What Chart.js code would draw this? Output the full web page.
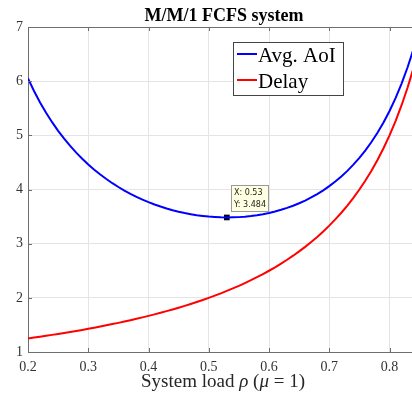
<!DOCTYPE html>
<html>
<head>
<meta charset="utf-8">
<script src="https://cdn.jsdelivr.net/npm/chart.js@4"></script>
<style>
  html, body { margin: 0; padding: 0; background: #fff; }
  #wrap { width: 412px; height: 393px; }
</style>
</head>
<body>
<div id="wrap"><canvas id="chart" width="412" height="393"></canvas></div>
<script>
// system load rho (mu = 1)
const rho = [0.20, 0.21, 0.22, 0.23, 0.24, 0.25, 0.26, 0.27, 0.28, 0.29,
             0.30, 0.31, 0.32, 0.33, 0.34, 0.35, 0.36, 0.37, 0.38, 0.39,
             0.40, 0.41, 0.42, 0.43, 0.44, 0.45, 0.46, 0.47, 0.48, 0.49,
             0.50, 0.51, 0.52, 0.53, 0.54, 0.55, 0.56, 0.57, 0.58, 0.59,
             0.60, 0.61, 0.62, 0.63, 0.64, 0.65, 0.66, 0.67, 0.68, 0.69,
             0.70, 0.71, 0.72, 0.73, 0.74, 0.75, 0.76, 0.77, 0.78, 0.79,
             0.80, 0.81, 0.82, 0.83, 0.84];

const avgAoI = [6.050, 5.818, 5.608, 5.417, 5.243, 5.083, 4.938, 4.804, 4.680, 4.567,
                4.462, 4.365, 4.276, 4.193, 4.116, 4.046, 3.980, 3.920, 3.865, 3.813,
                3.767, 3.724, 3.685, 3.650, 3.618, 3.590, 3.566, 3.545, 3.526, 3.512,
                3.500, 3.492, 3.486, 3.484, 3.486, 3.490, 3.498, 3.510, 3.525, 3.544,
                3.567, 3.593, 3.625, 3.660, 3.700, 3.746, 3.796, 3.853, 3.916, 3.985,
                4.062, 4.147, 4.240, 4.344, 4.458, 4.583, 4.723, 4.877, 5.048, 5.238,
                5.450, 5.688, 5.955, 6.257, 6.601];

const delay = [1.250, 1.266, 1.282, 1.299, 1.316, 1.333, 1.351, 1.370, 1.389, 1.408,
               1.429, 1.449, 1.471, 1.493, 1.515, 1.538, 1.563, 1.587, 1.613, 1.639,
               1.667, 1.695, 1.724, 1.754, 1.786, 1.818, 1.852, 1.887, 1.923, 1.961,
               2.000, 2.041, 2.083, 2.128, 2.174, 2.222, 2.273, 2.326, 2.381, 2.439,
               2.500, 2.564, 2.632, 2.703, 2.778, 2.857, 2.941, 3.030, 3.125, 3.226,
               3.333, 3.448, 3.571, 3.704, 3.846, 4.000, 4.167, 4.348, 4.545, 4.762,
               5.000, 5.263, 5.556, 5.882, 6.250];

const seriesNames = ['Avg. AoI', 'Delay'];
const seriesColors = ['#0000ff', '#ff0000'];

// data tip on the AoI minimum
const tipX = [0.53];
const tipY = [3.484];

const SERIF = '"Liberation Serif", "Times New Roman", serif';
const AXIS_COLOR = '#6e6e6e';

function pts(ys) {
    return rho.map((x, i) => ({ x: x, y: ys[i] }));
}

// frame, inward ticks, title, x label, legend box, data tip
const decorPlugin = {
    id: 'decor',
    afterDatasetsDraw(chart) {
        const ctx = chart.ctx;
        const a = chart.chartArea;
        const xs = chart.scales.x;
        const ys = chart.scales.y;

        ctx.save();
        ctx.strokeStyle = AXIS_COLOR;
        ctx.lineWidth = 1;
        // top line
        ctx.beginPath();
        ctx.moveTo(a.left, a.top + 0.5);
        ctx.lineTo(a.right, a.top + 0.5);
        ctx.stroke();
        // inward ticks
        ctx.beginPath();
        xs.ticks.forEach(t => {
            const px = Math.round(xs.getPixelForValue(t.value)) + 0.5;
            ctx.moveTo(px, a.bottom); ctx.lineTo(px, a.bottom - 4);
            ctx.moveTo(px, a.top); ctx.lineTo(px, a.top + 4);
        });
        ys.ticks.forEach(t => {
            const py = Math.round(ys.getPixelForValue(t.value)) + 0.5;
            ctx.moveTo(a.left, py); ctx.lineTo(a.left + 4, py);
        });
        ctx.stroke();

        // legend
        const lx = 233, ly = 42, lw = 110, lh = 53;
        ctx.fillStyle = '#fff';
        ctx.fillRect(lx, ly, lw, lh);
        ctx.strokeStyle = '#444';
        ctx.strokeRect(lx + 0.5, ly + 0.5, lw, lh);
        ctx.font = '21px ' + SERIF;
        ctx.textBaseline = 'middle';
        ctx.textAlign = 'left';
        seriesNames.forEach((name, i) => {
            const y = ly + 12 + i * 26;
            ctx.strokeStyle = seriesColors[i];
            ctx.lineWidth = 2;
            ctx.beginPath();
            ctx.moveTo(lx + 4, y); ctx.lineTo(lx + 24, y);
            ctx.stroke();
            ctx.fillStyle = '#000';
            ctx.fillText(name, lx + 25, y + 2);
        });

        // data tip box
        const mx = xs.getPixelForValue(tipX[0]);
        const my = ys.getPixelForValue(tipY[0]);
        const bx = Math.round(mx) + 4, by = Math.round(my) - 32, bw = 37, bh = 26;
        ctx.fillStyle = '#ffffe1';
        ctx.fillRect(bx, by, bw, bh);
        ctx.strokeStyle = '#9a9a9a';
        ctx.lineWidth = 1;
        ctx.strokeRect(bx + 0.5, by + 0.5, bw, bh);
        ctx.fillStyle = '#222';
        ctx.font = '8px "DejaVu Sans", sans-serif';
        ctx.textBaseline = 'middle';
        ctx.fillText('X: ' + tipX[0], bx + 3, by + 8);
        ctx.fillText('Y: ' + tipY[0], bx + 3, by + 20);

        // title
        ctx.fillStyle = '#000';
        ctx.font = 'bold 18px ' + SERIF;
        ctx.textAlign = 'center';
        ctx.textBaseline = 'alphabetic';
        ctx.fillText('M/M/1 FCFS system', 224, 21);

        // x axis label with italic symbols
        const parts = [
            ['System load ', false], ['\u03C1', true], [' (', false],
            ['\u03BC', true], [' = 1)', false]
        ];
        const fontOf = it => (it ? 'italic ' : '') + '19px ' + SERIF;
        let total = 0;
        parts.forEach(p => { ctx.font = fontOf(p[1]); total += ctx.measureText(p[0]).width; });
        let cx = 223 - total / 2;
        ctx.textAlign = 'left';
        ctx.fillStyle = '#262626';
        parts.forEach(p => {
            ctx.font = fontOf(p[1]);
            ctx.fillText(p[0], cx, 387);
            cx += ctx.measureText(p[0]).width;
        });
        ctx.restore();
    }
};

new Chart(document.getElementById('chart'), {
    type: 'line',
    data: {
        datasets: [
            {
                label: seriesNames[0],
                data: pts(avgAoI),
                borderColor: seriesColors[0],
                borderWidth: 2,
                pointRadius: 0,
                tension: 0,
            },
            {
                label: seriesNames[1],
                data: pts(delay),
                borderColor: seriesColors[1],
                borderWidth: 2,
                pointRadius: 0,
                tension: 0,
            },
            {
                label: 'tip',
                data: tipX.map((x, i) => ({ x: x, y: tipY[i] })),
                showLine: false,
                pointStyle: 'rect',
                pointRadius: 4,
                backgroundColor: '#000',
                borderColor: '#000',
                borderWidth: 0,
            },
        ],
    },
    options: {
        responsive: false,
        animation: false,
        events: [],
        layout: { autoPadding: false, padding: { top: 27, right: 0, left: 0, bottom: 0 } },
        plugins: {
            legend: { display: false },
            tooltip: { enabled: false },
            title: { display: false },
        },
        scales: {
            x: {
                type: 'linear',
                min: 0.2,
                max: 0.8373,
                afterFit: s => { s.height = 41; },
                ticks: {
                    stepSize: 0.1,
                    includeBounds: false,
                    color: '#333',
                    padding: 7,
                    maxRotation: 0,
                    font: { family: SERIF, size: 14 },
                    callback: v => v.toFixed(1),
                },
                grid: { color: '#e4e4e4', drawTicks: false },
                border: { color: AXIS_COLOR },
            },
            y: {
                min: 1,
                max: 7,
                afterFit: s => { s.width = 28; },
                ticks: {
                    stepSize: 1,
                    color: '#333',
                    padding: 5,
                    font: { family: SERIF, size: 14 },
                },
                grid: { color: '#e4e4e4', drawTicks: false },
                border: { color: AXIS_COLOR },
            },
        },
    },
    plugins: [decorPlugin],
});
</script>
</body>
</html>
